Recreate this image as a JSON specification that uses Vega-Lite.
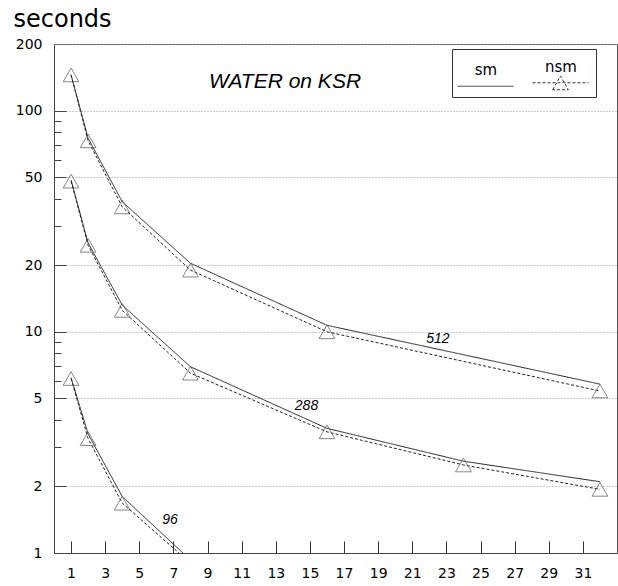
{
  "$schema": "https://vega.github.io/schema/vega-lite/v6.json",
  "width": 563,
  "height": 509,
  "autosize": "none",
  "padding": {"left": 54, "top": 44, "right": 1, "bottom": 33},
  "background": "white",
  "config": {
    "view": {"stroke": "#555", "strokeWidth": 1},
    "font": "DejaVu Sans",
    "axis": {
      "labelFont": "DejaVu Sans",
      "labelFontSize": 14,
      "labelColor": "#000",
      "domainColor": "#444",
      "tickColor": "#333",
      "gridColor": "#999",
      "gridDash": [1, 2],
      "labelFlush": false,
      "labelOverlap": false
    },
    "legend": {
      "orient": "none",
      "legendX": 398,
      "legendY": 5,
      "direction": "horizontal",
      "symbolType": "stroke",
      "symbolSize": 3136,
      "symbolStrokeColor": "#333",
      "symbolStrokeWidth": 1,
      "labelFont": "DejaVu Sans",
      "labelFontSize": 15,
      "labelColor": "#000",
      "labelAlign": "center",
      "labelOffset": 0,
      "columnPadding": 14,
      "padding": 5,
      "fillColor": "white",
      "strokeColor": "#333"
    }
  },
  "datasets": {
    "perf": [
      {"n": 512, "p": 1, "type": "sm", "t": 145},
      {"n": 512, "p": 2, "type": "sm", "t": 75},
      {"n": 512, "p": 4, "type": "sm", "t": 38.7},
      {"n": 512, "p": 8, "type": "sm", "t": 20.4},
      {"n": 512, "p": 16, "type": "sm", "t": 10.7},
      {"n": 512, "p": 32, "type": "sm", "t": 5.8},
      {"n": 512, "p": 1, "type": "nsm", "t": 145},
      {"n": 512, "p": 2, "type": "nsm", "t": 73},
      {"n": 512, "p": 4, "type": "nsm", "t": 36.7},
      {"n": 512, "p": 8, "type": "nsm", "t": 19.0},
      {"n": 512, "p": 16, "type": "nsm", "t": 10.0},
      {"n": 512, "p": 32, "type": "nsm", "t": 5.4},
      {"n": 288, "p": 1, "type": "sm", "t": 48.5},
      {"n": 288, "p": 2, "type": "sm", "t": 25.2},
      {"n": 288, "p": 4, "type": "sm", "t": 13.2},
      {"n": 288, "p": 8, "type": "sm", "t": 6.95},
      {"n": 288, "p": 16, "type": "sm", "t": 3.66},
      {"n": 288, "p": 24, "type": "sm", "t": 2.6},
      {"n": 288, "p": 32, "type": "sm", "t": 2.1},
      {"n": 288, "p": 1, "type": "nsm", "t": 48},
      {"n": 288, "p": 2, "type": "nsm", "t": 24.6},
      {"n": 288, "p": 4, "type": "nsm", "t": 12.5},
      {"n": 288, "p": 8, "type": "nsm", "t": 6.5},
      {"n": 288, "p": 16, "type": "nsm", "t": 3.53},
      {"n": 288, "p": 24, "type": "nsm", "t": 2.5},
      {"n": 288, "p": 32, "type": "nsm", "t": 1.94},
      {"n": 96, "p": 1, "type": "sm", "t": 6.2},
      {"n": 96, "p": 2, "type": "sm", "t": 3.45},
      {"n": 96, "p": 4, "type": "sm", "t": 1.8},
      {"n": 96, "p": 8, "type": "sm", "t": 0.93},
      {"n": 96, "p": 1, "type": "nsm", "t": 6.15},
      {"n": 96, "p": 2, "type": "nsm", "t": 3.29},
      {"n": 96, "p": 4, "type": "nsm", "t": 1.68},
      {"n": 96, "p": 8, "type": "nsm", "t": 0.9}
    ],
    "notes": [
      {"label": "512", "p": 22.5, "t": 8.87},
      {"label": "288", "p": 14.8, "t": 4.43},
      {"label": "96", "p": 6.8, "t": 1.35}
    ],
    "heading": [
      {"label": "WATER on KSR", "p": 13.54, "t": 127}
    ]
  },
  "layer": [
    {
      "data": {"name": "perf"},
      "mark": {"type": "line", "color": "#222", "strokeWidth": 1, "clip": true},
      "encoding": {
        "x": {
          "field": "p", "type": "quantitative",
          "scale": {"domain": [0, 33], "nice": false, "zero": false},
          "axis": {
            "title": null,
            "values": [1, 3, 5, 7, 9, 11, 13, 15, 17, 19, 21, 23, 25, 27, 29, 31],
            "ticks": false,
            "labelPadding": 13,
            "labelOverlap": false,
            "grid": false
          }
        },
        "y": {
          "field": "t", "type": "quantitative",
          "scale": {"type": "log", "domain": [1, 200], "nice": false},
          "axis": {
            "title": "seconds",
            "titleAngle": 0,
            "titleAlign": "left",
            "titleBaseline": "alphabetic",
            "titleX": -41,
            "titleY": -18,
            "titleFont": "DejaVu Sans",
            "titleFontSize": 24,
            "titleFontWeight": "normal",
            "titleColor": "#000",
            "values": [1, 2, 5, 10, 20, 50, 100, 200],
            "format": "d",
            "ticks": false,
            "labelPadding": 12,
            "labelOverlap": false,
            "grid": true
          }
        },
        "detail": {"field": "n"},
        "strokeDash": {
          "field": "type", "type": "nominal",
          "scale": {"domain": ["sm", "nsm"], "range": [[1, 0], [3, 2]]},
          "legend": {
            "title": null,
            "encode": {
              "labels": {"update": {"dx": {"value": -28}, "dy": {"value": -16}}},
              "symbols": {"update": {"shape": {"signal": "datum.value === 'nsm' ? 'M-1,0L1,0M-0.28,0.25L0,-0.24L0.28,0.25Z' : 'M-1,0L1,0'"}}}
            }
          }
        }
      }
    },
    {
      "data": {"name": "perf"},
      "transform": [{"filter": "datum.type === 'nsm'"}],
      "mark": {"type": "point", "shape": "triangle-up", "size": 250, "filled": false, "stroke": "#555", "strokeWidth": 1, "clip": true},
      "encoding": {
        "x": {
          "field": "p", "type": "quantitative",
          "axis": {
            "orient": "bottom",
            "title": null,
            "values": [1, 3, 5, 7, 9, 11, 13, 15, 17, 19, 21, 23, 25, 27, 29, 31],
            "labels": false,
            "domain": false,
            "grid": false,
            "offset": -12,
            "tickSize": 12
          }
        },
        "y": {
          "field": "t", "type": "quantitative",
          "axis": {
            "orient": "left",
            "title": null,
            "values": [2, 5, 10, 20, 50, 100],
            "labels": false,
            "domain": false,
            "grid": false,
            "offset": -12,
            "tickSize": 12,
            "tickColor": "#444"
          }
        }
      }
    },
    {
      "data": {"name": "notes"},
      "mark": {"type": "text", "font": "Liberation Sans", "fontStyle": "italic", "fontSize": 14, "align": "center", "baseline": "alphabetic", "color": "#000"},
      "encoding": {
        "x": {"field": "p", "type": "quantitative", "axis": null},
        "y": {
          "field": "t", "type": "quantitative",
          "axis": {
            "orient": "left",
            "title": null,
            "values": [3, 4, 6, 7, 8, 9, 30, 40, 60, 70, 80, 90],
            "labels": false,
            "domain": false,
            "grid": false,
            "offset": -7,
            "tickSize": 7,
            "tickColor": "#444"
          }
        },
        "text": {"field": "label"}
      }
    },
    {
      "data": {"name": "heading"},
      "mark": {"type": "text", "font": "Liberation Sans", "fontStyle": "italic", "fontSize": 21, "align": "center", "baseline": "alphabetic", "color": "#000"},
      "encoding": {
        "x": {"field": "p", "type": "quantitative", "axis": null},
        "y": {"field": "t", "type": "quantitative", "axis": null},
        "text": {"field": "label"}
      }
    }
  ],
  "resolve": {"axis": {"x": "independent", "y": "independent"}}
}
